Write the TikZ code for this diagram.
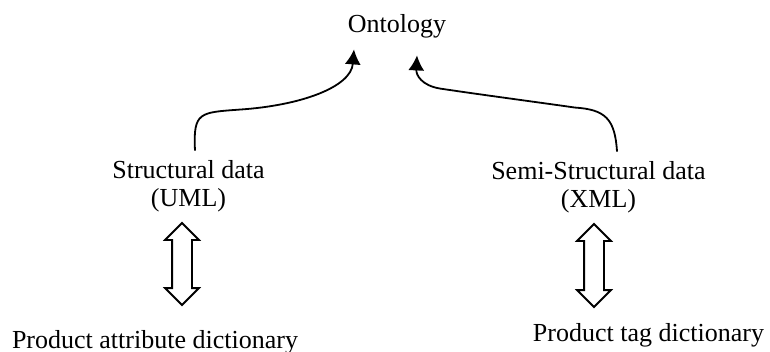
\documentclass[tikz,border=0pt]{standalone}
\usepackage{fontspec}
\setmainfont{Liberation Serif}
\usetikzlibrary{positioning, arrows.meta, shapes.arrows}
\newcommand{\ontoarrow}{-{Latex[length=7.5pt,width=8pt]}}

\begin{document}
\begin{tikzpicture}[x=0.5pt, y=-0.5pt,
    lbl/.style={font=\fontsize{13}{15}\selectfont, inner sep=5pt, anchor=base},
    dictarrow/.style={double arrow, draw, rotate=90, line width=0.9pt, inner sep=4.5pt,
        double arrow head extend=3.5pt}]
            \useasboundingbox (0,0) rectangle (770,352);
            % labels
            \node[lbl] (ontology) at (397,33) {Ontology};
            \node[lbl] (structural) at (188.5,179) {Structural data};
            \node[lbl] (uml) at (188.5,206) {(UML)};
            \node[lbl] (semistructural) at (598.5,180) {Semi-Structural data};
            \node[lbl] (xml) at (598.5,207) {(XML)};
            \node[lbl] (attrdict) at (155,348) {Product attribute dictionary};
            \node[lbl] (tagdict) at (648.5,341) {Product tag dictionary};
            % double arrows
            \node[dictarrow, minimum height=41pt] (umlarrow) at (182,264) {};
            \node[dictarrow, minimum height=41.5pt] (xmlarrow) at (594,265.5) {};
            % curved arrows
            \draw[\ontoarrow, line width=0.9pt] ([xshift=3.25pt]structural.north)
                .. controls +(-2,-39) and +(-40,3) .. ++(45,-41)
                .. controls +(60,-4) and +(-3,38) .. ([xshift=-21.5pt,yshift=-0.2pt]ontology.south);
            \draw[\ontoarrow, line width=0.9pt] ([xshift=9.25pt]semistructural.north)
                .. controls +(-2,-33) and +(30,2) .. ++(-42,-44)
                .. controls +(-35,-5) and +(40,6) .. ++(-135,-19)
                .. controls +(-18,-3) and +(-1,20) .. ([xshift=10pt,yshift=-3.2pt]ontology.south);
\end{tikzpicture}
\end{document}
